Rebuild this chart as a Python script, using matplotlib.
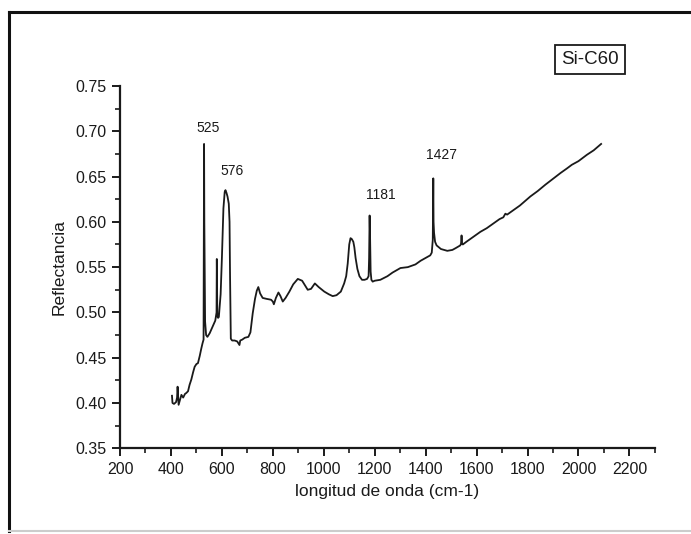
import numpy as np
import matplotlib.pyplot as plt
from matplotlib.lines import Line2D
from matplotlib.ticker import MultipleLocator

plt.rcParams['font.family'] = ['Liberation Sans', 'DejaVu Sans']

# espectro de reflectancia
wavenumber = [404, 406, 412, 420, 424, 426, 430, 436, 441, 448, 455, 460, 467, 473,
              480, 487, 493, 500, 506, 513, 519, 524, 528, 529, 530, 531, 534, 538,
              543, 552, 560, 568, 574, 579, 580, 581, 582, 585, 588, 595, 600, 606,
              611, 614, 618, 622, 627, 630, 632, 635, 640, 650, 660, 669, 672, 680,
              690, 704, 712, 721, 730, 737, 743, 750, 760, 775, 793, 800, 804, 812,
              822, 830, 839, 850, 865, 880, 898, 915, 937, 950, 965, 980, 1002, 1020,
              1035, 1050, 1067, 1080, 1088, 1094, 1100, 1105, 1110, 1116, 1120, 1125,
              1132, 1140, 1150, 1160, 1170, 1176, 1178, 1180, 1182, 1184, 1187, 1192,
              1200, 1222, 1250, 1270, 1301, 1330, 1360, 1380, 1405, 1418, 1424, 1428,
              1430, 1431, 1433, 1437, 1443, 1460, 1485, 1505, 1518, 1530, 1536, 1539,
              1541, 1543, 1546, 1560, 1580, 1615, 1640, 1665, 1690, 1705, 1713, 1720,
              1740, 1770, 1811, 1840, 1870, 1902, 1930, 1955, 1974, 2000, 2033, 2060,
              2089]
reflectance = [0.408, 0.400, 0.399, 0.401, 0.406, 0.418, 0.398, 0.404, 0.409, 0.406,
               0.410, 0.411, 0.413, 0.420, 0.426, 0.434, 0.440, 0.443, 0.444, 0.452,
               0.460, 0.466, 0.470, 0.600, 0.686, 0.600, 0.490, 0.475, 0.473, 0.477,
               0.482, 0.487, 0.491, 0.500, 0.559, 0.520, 0.496, 0.494, 0.495, 0.520,
               0.560, 0.615, 0.633, 0.635, 0.632, 0.628, 0.620, 0.600, 0.540, 0.471,
               0.469, 0.469, 0.468, 0.464, 0.469, 0.470, 0.472, 0.473, 0.478, 0.499,
               0.515, 0.524, 0.528, 0.521, 0.516, 0.515, 0.514, 0.512, 0.509, 0.516,
               0.522, 0.518, 0.512, 0.516, 0.523, 0.531, 0.537, 0.535, 0.525, 0.526,
               0.532, 0.528, 0.523, 0.520, 0.518, 0.519, 0.523, 0.532, 0.540, 0.554,
               0.575, 0.582, 0.581, 0.578, 0.572, 0.560, 0.548, 0.540, 0.536, 0.536,
               0.537, 0.540, 0.560, 0.607, 0.580, 0.545, 0.536, 0.534, 0.535, 0.536,
               0.540, 0.544, 0.549, 0.550, 0.553, 0.557, 0.561, 0.563, 0.566, 0.580,
               0.648, 0.600, 0.588, 0.578, 0.574, 0.570, 0.568, 0.569, 0.571, 0.573,
               0.574, 0.576, 0.585, 0.576, 0.575, 0.578, 0.582, 0.589, 0.593, 0.598,
               0.603, 0.605, 0.609, 0.608, 0.612, 0.618, 0.628, 0.634, 0.641, 0.648,
               0.654, 0.659, 0.663, 0.667, 0.674, 0.679, 0.686]

peak_labels = ['525', '576', '1181', '1427']
label_x = [546, 640, 1224, 1463]
label_y = [0.7035, 0.656, 0.630, 0.674]

fig = plt.figure(figsize=(6.91, 5.34), dpi=100)
ax = fig.add_axes([0.1737, 0.1605, 0.774, 0.6785])

ax.plot(wavenumber, reflectance, color='#1a1a1a', linewidth=1.3)

for txt, lx, ly in zip(peak_labels, label_x, label_y):
    ax.text(lx, ly, txt, ha='center', va='center', fontsize=10, color='#1a1a1a')

ax.set_xlim(200, 2300)
ax.set_ylim(0.35, 0.75)
ax.xaxis.set_major_locator(MultipleLocator(200))
ax.xaxis.set_minor_locator(MultipleLocator(100))
ax.yaxis.set_major_locator(MultipleLocator(0.05))
ax.yaxis.set_minor_locator(MultipleLocator(0.025))
ax.set_xticks(np.arange(200, 2201, 200))
ax.yaxis.set_major_formatter(plt.FormatStrFormatter('%.2f'))

for s in ['top', 'right']:
    ax.spines[s].set_visible(False)
for s in ['left', 'bottom']:
    ax.spines[s].set_linewidth(1.6)
    ax.spines[s].set_color('#1a1a1a')
ax.tick_params(which='major', direction='out', length=6, width=1.4, labelsize=11.5,
               colors='#1a1a1a', pad=4)
ax.tick_params(which='minor', direction='out', length=3.5, width=1.2, colors='#1a1a1a')

ax.set_xlabel('longitud de onda (cm-1)', fontsize=12.5, color='#1a1a1a', labelpad=5)
ax.set_ylabel('Reflectancia', fontsize=12.5, color='#1a1a1a', labelpad=6)

# recuadro con el nombre de la muestra
fig.text(590 / 691, 1 - 59.5 / 534, 'Si-C60', ha='center', va='center', fontsize=13.5,
         color='#1a1a1a',
         bbox=dict(boxstyle='square,pad=0.32', facecolor='white', edgecolor='#1a1a1a',
                   linewidth=1.3))

# marco exterior
W, H = 691, 534
fig.add_artist(Line2D([9 / W, 1], [1 - 12 / H, 1 - 12 / H], color='#111111', linewidth=2.2))
fig.add_artist(Line2D([9 / W, 9 / W], [1 - 12 / H, 1 - 531 / H], color='#111111', linewidth=2.2))
fig.add_artist(Line2D([9 / W, 1], [1 - 531 / H, 1 - 531 / H], color='#cccccc', linewidth=1.5))

fig.savefig('out.png', dpi=100)
